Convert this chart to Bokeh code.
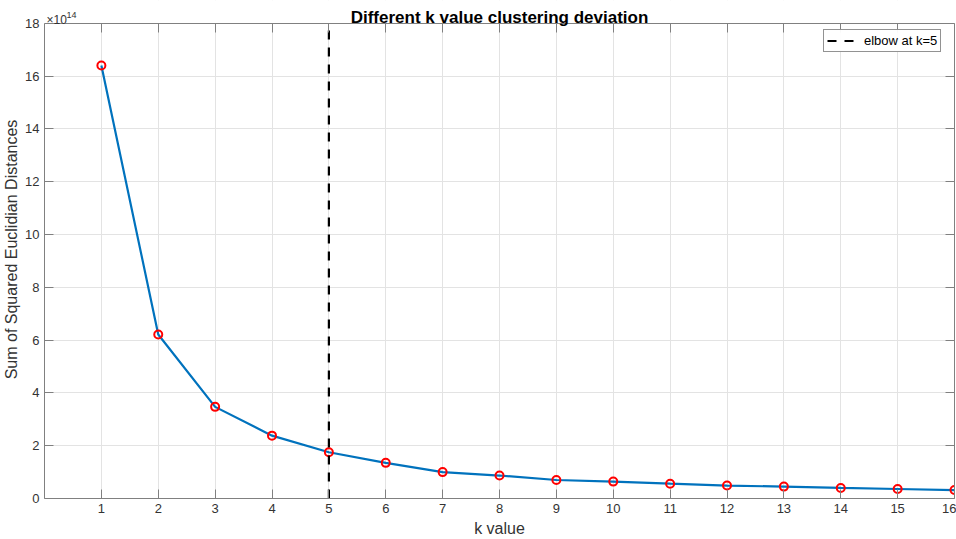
from bokeh.plotting import figure
from bokeh.models import (Range1d, LinearAxis, FixedTicker, Label, Legend,
                          LegendItem, BoxAnnotation)
from bokeh.embed import file_html
from bokeh.resources import INLINE

# Sum of squared distances (units of 1e14) for each number of clusters k
k_values = [1, 2, 3, 4, 5, 6, 7, 8, 9, 10, 11, 12, 13, 14, 15, 16]
sse = [16.40, 6.21, 3.47, 2.38, 1.75, 1.35, 1.00, 0.87, 0.70, 0.64,
       0.56, 0.49, 0.45, 0.40, 0.36, 0.32]
elbow_k = 5
x_ticks = list(range(1, 17))
y_ticks = list(range(0, 19, 2))

X_MIN, X_MAX = 0, 16
Y_MIN, Y_MAX = 0, 18
# headroom above the axes box where the title and exponent are written
Y_TOP = 18.86

FONT = "Liberation Sans"
AXIS_GREY = "#808080"
TEXT_GREY = "#333333"

p = figure(width=956, height=539, output_backend="svg", toolbar_location=None,
           x_range=Range1d(X_MIN, X_MAX), y_range=Range1d(Y_MIN, Y_TOP),
           min_border_left=0, min_border_right=2, min_border_top=0,
           min_border_bottom=0)
p.title = None
p.outline_line_color = None

for ax in (p.xaxis[0], p.yaxis[0]):
    ax.axis_line_color = AXIS_GREY
    ax.major_tick_line_color = AXIS_GREY
    ax.major_tick_in = 9
    ax.major_tick_out = 0
    ax.minor_tick_line_color = None
    ax.major_label_text_font = FONT
    ax.major_label_text_font_size = "13px"
    ax.major_label_text_color = TEXT_GREY
    ax.axis_label_text_font = FONT
    ax.axis_label_text_font_size = "16px"
    ax.axis_label_text_font_style = "normal"
    ax.axis_label_text_color = TEXT_GREY

p.xaxis[0].ticker = FixedTicker(ticks=x_ticks)
p.yaxis[0].ticker = FixedTicker(ticks=y_ticks)
p.yaxis[0].bounds = (Y_MIN, Y_MAX)
p.xaxis[0].axis_label = "k value"
p.yaxis[0].axis_label = "Sum of Squared Euclidian Distances"
p.xaxis[0].major_label_standoff = 5
p.yaxis[0].major_label_standoff = 5
p.xaxis[0].axis_label_standoff = 4
p.yaxis[0].axis_label_standoff = 2

# Box edges with inward ticks on the top and right
top = LinearAxis(ticker=FixedTicker(ticks=x_ticks), fixed_location=Y_MAX,
                 major_label_text_font_size="0px",
                 axis_line_color=AXIS_GREY, major_tick_line_color=AXIS_GREY,
                 major_tick_in=9, major_tick_out=0, minor_tick_line_color=None,
                 major_label_standoff=0)
right = LinearAxis(ticker=FixedTicker(ticks=y_ticks), bounds=(Y_MIN, Y_MAX),
                   major_label_text_font_size="0px",
                   axis_line_color=AXIS_GREY, major_tick_line_color=AXIS_GREY,
                   major_tick_in=9, major_tick_out=0, minor_tick_line_color=None,
                   major_label_standoff=0)
top.major_label_overrides = {t: "" for t in x_ticks}
right.major_label_overrides = {t: "" for t in y_ticks}
p.add_layout(top, "above")
p.add_layout(right, "right")

p.xgrid.ticker = FixedTicker(ticks=x_ticks)
p.ygrid.ticker = FixedTicker(ticks=y_ticks)
p.grid.grid_line_color = "#e3e3e3"
p.grid.grid_line_width = 1

# keep the grid inside the axes box
p.add_layout(BoxAnnotation(bottom=Y_MAX, fill_color="white", fill_alpha=1,
                           line_color=None, level="underlay"))

# Curve and markers
p.line(k_values, sse, line_color="#0072BD", line_width=2.2)
p.scatter(k_values, sse, marker="circle", size=8, line_color="#FF0000",
          line_width=2, fill_alpha=0)

# Elbow marker line
elbow = p.line([elbow_k, elbow_k], [Y_MIN, Y_MAX], line_color="#000000",
               line_width=2.2, line_dash="9 8")

legend = Legend(items=[LegendItem(label="elbow at k=5", renderers=[elbow])],
                location=(779, 446), label_text_font=FONT,
                label_text_font_size="13px", label_text_color="#000000",
                border_line_color="#262626", border_line_width=1,
                background_fill_color="#ffffff", glyph_width=27, glyph_height=15,
                padding=3, margin=0, spacing=0, label_standoff=10,
                label_height=15)
p.add_layout(legend)

# Title and exponent above the box
p.add_layout(Label(x=(X_MIN + X_MAX) / 2, y=Y_MAX, y_offset=6,
                   text="Different k value clustering deviation",
                   text_font=FONT, text_font_size="17px", text_font_style="bold",
                   text_color="#000000", text_align="center",
                   text_baseline="alphabetic"))
p.add_layout(Label(x=X_MIN, y=Y_MAX, x_offset=2, y_offset=3, text="×10",
                   text_font=FONT, text_font_size="12px", text_color=TEXT_GREY,
                   text_baseline="alphabetic"))
p.add_layout(Label(x=X_MIN, y=Y_MAX, x_offset=22, y_offset=8, text="14",
                   text_font=FONT, text_font_size="9px", text_color=TEXT_GREY,
                   text_baseline="alphabetic"))

open("out.html", "w").write(file_html(p, INLINE))
